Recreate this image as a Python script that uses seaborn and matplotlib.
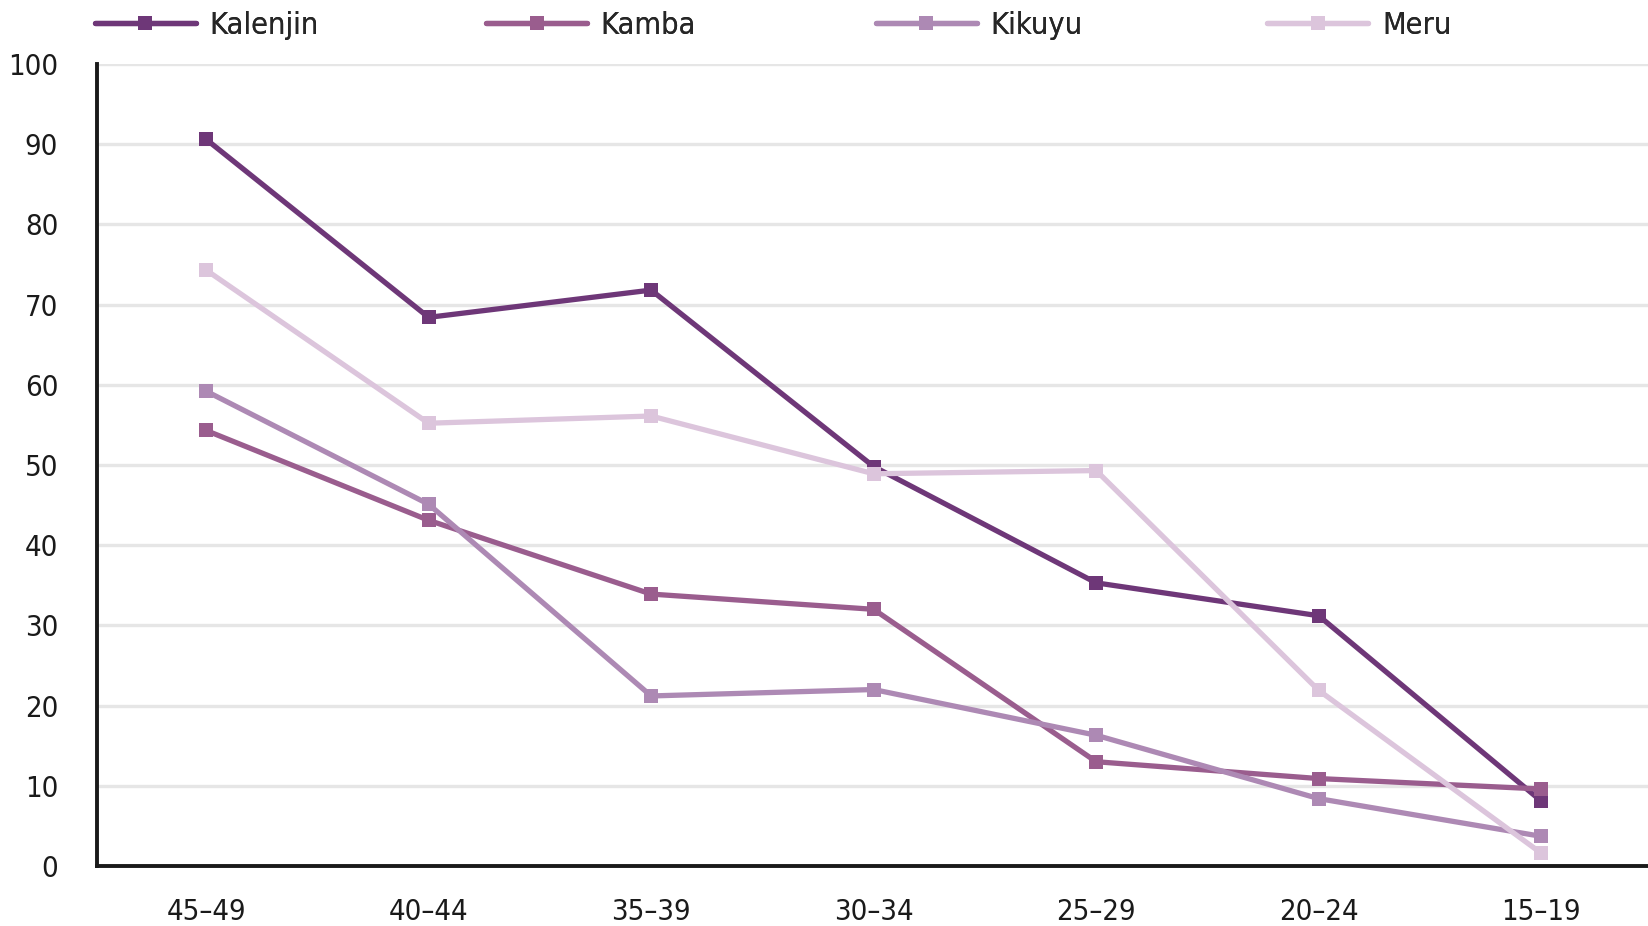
import pandas as pd
import seaborn as sns
import matplotlib
matplotlib.use('Agg')
import matplotlib.pyplot as plt

age_groups = ['45–49', '40–44', '35–39', '30–34', '25–29', '20–24', '15–19']
groups = ['Kalenjin', 'Kamba', 'Kikuyu', 'Meru']

kalenjin = [90.6, 68.4, 71.8, 49.8, 35.3, 31.2, 8.1]
kamba = [54.3, 43.1, 33.9, 32.0, 13.0, 10.9, 9.6]
kikuyu = [59.2, 45.1, 21.2, 22.0, 16.3, 8.4, 3.7]
meru = [74.3, 55.2, 56.1, 48.9, 49.3, 21.9, 1.6]

colors = ['#6e3778', '#9a5d8e', '#ad89b4', '#dcc5dc']

rows = []
for name, vals in zip(groups, [kalenjin, kamba, kikuyu, meru]):
    for i, v in enumerate(vals):
        rows.append({'age': i, 'value': v, 'group': name})
df = pd.DataFrame(rows)

sns.set_style('white')
plt.rcParams['font.family'] = ['DejaVu Sans']
plt.rcParams['font.stretch'] = 'condensed'

fig = plt.figure(figsize=(16.48, 9.26), dpi=100)
ax = fig.add_axes([0.0589, 0.0648, 0.9411, 0.8662])

sns.lineplot(data=df, x='age', y='value', hue='group', hue_order=groups,
             palette=colors, marker='s', markersize=10.5, markeredgewidth=0,
             linewidth=3.8, ax=ax, zorder=3, legend=True)

ax.set_xlim(-0.49, 6.48)
ax.set_ylim(0, 100)
ax.set_yticks(range(0, 101, 10))
ax.set_xticks(range(len(age_groups)))
ax.set_xticklabels(age_groups)
ax.grid(axis='y', color='#e6e6e6', linewidth=2.4, zorder=0)
ax.set_xlabel('')
ax.set_ylabel('')
for side in ['top', 'right']:
    ax.spines[side].set_visible(False)
for side in ['left', 'bottom']:
    ax.spines[side].set_color('#1a1a1a')
    ax.spines[side].set_linewidth(2.8)
ax.tick_params(axis='both', length=0, labelsize=21, colors='#1a1a1a')
ax.tick_params(axis='x', pad=23)
ax.tick_params(axis='y', pad=28)

# one legend per entry so the columns sit at even spacing
handles, labels = ax.get_legend_handles_labels()
ax.get_legend().remove()
legend_x = [0.0575, 0.295, 0.5315, 0.769]
for h, lab, lx in zip(handles, labels, legend_x):
    leg = fig.legend([h], [lab], loc='center left', bbox_to_anchor=(lx, 0.973),
                     frameon=False, fontsize=22, handlelength=3.3,
                     handletextpad=0.45, borderpad=0, borderaxespad=0)
    fig.add_artist(leg)

fig.savefig('out.png', dpi=100)
